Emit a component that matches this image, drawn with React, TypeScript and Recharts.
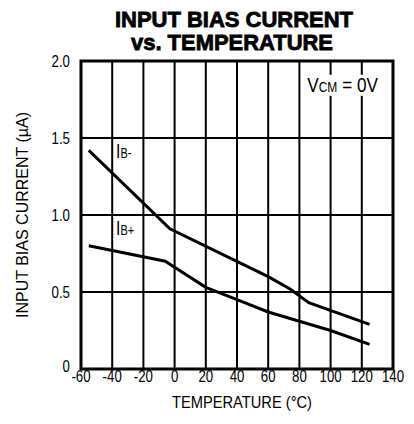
import React from "react";
import {
    LineChart,
    Line,
    XAxis,
    YAxis,
    CartesianGrid,
    ReferenceArea,
    ReferenceDot,
    Customized
} from "recharts";

// I_B- curve
const ibMinusTemp = [-55, -3, 60, 74, 86, 125];
const ibMinusCurrent = [1.42, 0.91, 0.6, 0.52, 0.43, 0.29];

// I_B+ curve
const ibPlusTemp = [-55, -6, 0, 20, 40, 60, 80, 100, 125];
const ibPlusCurrent = [0.8, 0.7, 0.66, 0.53, 0.45, 0.37, 0.31, 0.25, 0.16];

const tempTicks = [-60, -40, -20, 0, 20, 40, 60, 80, 100, 120, 140];
const currentTicks = [0, 0.5, 1, 1.5, 2];
const currentTickLabels = ["0", "0.5", "1.0", "1.5", "2.0"];

const ibMinus = ibMinusTemp.map((t, i) => ({ temp: t, current: ibMinusCurrent[i] }));
const ibPlus = ibPlusTemp.map((t, i) => ({ temp: t, current: ibPlusCurrent[i] }));

const sans = "'Liberation Sans', Arial, sans-serif";

// condensed text: regular sans squeezed horizontally
function Narrow(props: any) {
    const { x, y, anchor, size, rotate, sx, children } = props;
    const rot = rotate ? ` rotate(${rotate})` : "";
    return (
        <text transform={`translate(${x},${y})${rot} scale(${sx || 0.78},1)`} x={0} y={0}
            textAnchor={anchor || "start"} fontFamily={sans} fontSize={size} fill="#000">
            {children}
        </text>
    );
}

function YTick(props: any) {
    const idx = currentTicks.indexOf(props.payload.value);
    // the bottom "0" sits a little above the axis line
    const lift = props.payload.value === 0 ? 3 : 0;
    return (
        <Narrow x={props.x - 11} y={props.y + 6 - lift} anchor="end" size={17}>
            {currentTickLabels[idx]}
        </Narrow>
    );
}

function XTick(props: any) {
    return (
        <Narrow x={props.x} y={props.y + 13} anchor="middle" size={17}>
            {props.payload.value}
        </Narrow>
    );
}

function subLabel(main: string, sub: string, rest: string, boxWidth: number, sx: number) {
    return (p: any) => {
        const vb = p.viewBox || {};
        return (
            <g>
                {boxWidth > 0 && (
                    <rect x={vb.x - 3} y={vb.y - 17} width={boxWidth} height={21} fill="#fff" />
                )}
                <Narrow x={vb.x} y={vb.y} size={20} sx={sx}>
                    {main}
                    <tspan fontSize={14}>{sub}</tspan>
                    {rest}
                </Narrow>
            </g>
        );
    };
}

function Titles() {
    return (
        <g>
            <text x={234} y={27} textAnchor="middle" fontFamily={sans} fontWeight="bold"
                fontSize={22} textLength={238} lengthAdjust="spacingAndGlyphs"
                stroke="#000" strokeWidth={0.8} fill="#000">
                INPUT BIAS CURRENT
            </text>
            <text x={232} y={50} textAnchor="middle" fontFamily={sans} fontWeight="bold"
                fontSize={22} textLength={202} lengthAdjust="spacingAndGlyphs"
                stroke="#000" strokeWidth={0.8} fill="#000">
                vs. TEMPERATURE
            </text>
            <text x={242} y={408} textAnchor="middle" fontFamily={sans} fontSize={17}
                textLength={140} lengthAdjust="spacingAndGlyphs" fill="#000">
                TEMPERATURE (°C)
            </text>
            <text transform="translate(28,215) rotate(-90)" textAnchor="middle"
                fontFamily={sans} fontSize={16} textLength={206}
                lengthAdjust="spacingAndGlyphs" fill="#000">
                INPUT BIAS CURRENT (µA)
            </text>
        </g>
    );
}

export default function App() {
    return (
        <div style={{ position: "absolute", left: 0, top: 0 }}>
            <LineChart width={414} height={424}
                margin={{ top: 61, right: 21, bottom: 25, left: 41 }}>
                <CartesianGrid stroke="#000" strokeWidth={2}
                    horizontalValues={currentTicks} verticalValues={tempTicks} />
                <XAxis type="number" dataKey="temp" domain={[-60, 140]} ticks={tempTicks}
                    allowDataOverflow height={30} tickSize={0} tickMargin={0}
                    tickLine={false} axisLine={false} tick={<XTick />} interval={0} />
                <YAxis type="number" dataKey="current" domain={[0, 2]} ticks={currentTicks}
                    allowDataOverflow width={40} tickSize={0} tickMargin={0}
                    tickLine={false} axisLine={false} tick={<YTick />} interval={0} />
                <ReferenceArea x1={-60} x2={140} y1={0} y2={2} fill="none"
                    fillOpacity={0} stroke="#000" strokeWidth={3} />
                <Line data={ibMinus} dataKey="current" type="linear" stroke="#000"
                    strokeWidth={3} dot={false} isAnimationActive={false} />
                <Line data={ibPlus} dataKey="current" type="linear" stroke="#000"
                    strokeWidth={3} dot={false} isAnimationActive={false} />
                <ReferenceDot x={-37.5} y={1.37} r={0} fill="none" stroke="none"
                    label={subLabel("I", "B-", "", 0, 0.78)} />
                <ReferenceDot x={-37.5} y={0.87} r={0} fill="none" stroke="none"
                    label={subLabel("I", "B+", "", 0, 0.78)} />
                <ReferenceDot x={85} y={1.8} r={0} fill="none" stroke="none"
                    label={subLabel("V", "CM", " = 0V", 80, 0.86)} />
                <Customized component={<Titles />} />
            </LineChart>
        </div>
    );
}
